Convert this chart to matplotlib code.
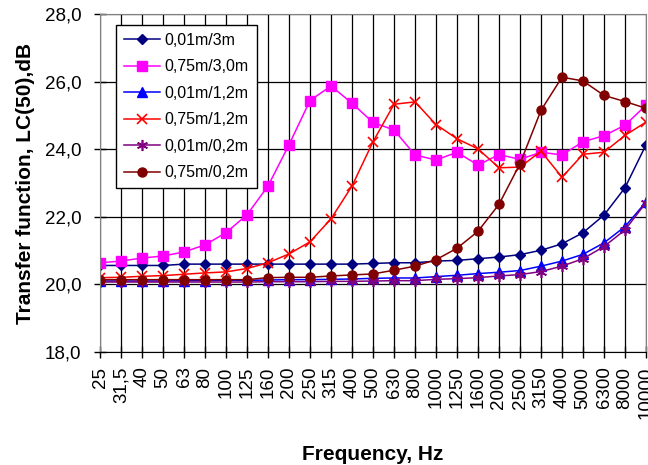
import matplotlib
matplotlib.use('Agg')
import matplotlib.pyplot as plt

plt.rcParams['font.family'] = ['Liberation Sans', 'DejaVu Sans']

freqs = ['25', '31,5', '40', '50', '63', '80', '100', '125', '160', '200', '250', '315', '400',
         '500', '630', '800', '1000', '1250', '1600', '2000', '2500', '3150', '4000', '5000',
         '6300', '8000', '10000']

s_001_3 = [20.56, 20.56, 20.56, 20.56, 20.6, 20.6, 20.6, 20.6, 20.6, 20.6, 20.6, 20.6, 20.6,
           20.62, 20.64, 20.64, 20.69, 20.71, 20.76, 20.81, 20.88, 21.01, 21.20, 21.53, 22.05,
           22.86, 24.13]
s_075_3 = [20.64, 20.69, 20.78, 20.84, 20.96, 21.17, 21.53, 22.06, 22.91, 24.13, 25.44, 25.87,
           25.36, 24.79, 24.57, 23.83, 23.68, 23.91, 23.53, 23.84, 23.70, 23.91, 23.83, 24.22,
           24.40, 24.71, 25.30]
s_001_12 = [20.1, 20.1, 20.1, 20.1, 20.11, 20.11, 20.12, 20.12, 20.13, 20.14, 20.14, 20.15, 20.16,
            20.18, 20.19, 20.19, 20.23, 20.27, 20.32, 20.36, 20.41, 20.54, 20.69, 20.89, 21.23,
            21.71, 22.44]
s_075_12 = [20.2, 20.21, 20.24, 20.26, 20.3, 20.34, 20.37, 20.47, 20.64, 20.90, 21.26, 21.94,
            22.91, 24.22, 25.33, 25.40, 24.73, 24.31, 24.01, 23.45, 23.47, 23.94, 23.17, 23.85,
            23.91, 24.41, 24.80]
s_001_02 = [20.07, 20.07, 20.07, 20.07, 20.07, 20.07, 20.07, 20.07, 20.08, 20.08, 20.08, 20.09,
            20.09, 20.10, 20.11, 20.11, 20.15, 20.17, 20.2, 20.25, 20.29, 20.38, 20.54, 20.76,
            21.12, 21.61, 22.42]
s_075_02 = [20.14, 20.14, 20.14, 20.14, 20.14, 20.14, 20.14, 20.14, 20.2, 20.21, 20.21, 20.25,
            20.28, 20.31, 20.42, 20.54, 20.73, 21.07, 21.57, 22.37, 23.57, 25.15, 26.13, 26.02,
            25.59, 25.41, 25.21]

labels = ['0,01m/3m', '0,75m/3,0m', '0,01m/1,2m', '0,75m/1,2m', '0,01m/0,2m', '0,75m/0,2m']

fig = plt.figure(figsize=(6.48, 4.65), dpi=100)
ax = fig.add_axes([100/648, 1 - 352/465, 546/648, 338/465])

x = list(range(len(freqs)))
ax.plot(x, s_001_3, color='#000080', marker='D', ms=5.5, lw=1.1, label=labels[0])
ax.plot(x, s_075_3, color='#FF00FF', marker='s', ms=6.5, lw=1.1, label=labels[1])
ax.plot(x, s_001_12, color='#0000FF', marker='^', ms=7, lw=1.1, label=labels[2])
ax.plot(x, s_075_12, color='#FF0000', marker='x', ms=7.5, mew=1.2, lw=1.1, label=labels[3])
ax.plot(x, s_001_02, color='#800080', marker=(6, 2, 0), ms=8, mew=1.2, lw=1.1, label=labels[4])
ax.plot(x, s_075_02, color='#800000', marker='o', ms=6.5, lw=1.1, label=labels[5])

ax.set_xlim(0, len(freqs) - 1)
ax.set_ylim(18, 28)
ax.set_yticks([18, 20, 22, 24, 26, 28])
ax.set_yticklabels(['18,0', '20,0', '22,0', '24,0', '26,0', '28,0'])
ax.set_xticks(x)
ax.set_xticklabels(freqs, rotation=90, va='top', ha='center')
ax.tick_params(axis='both', direction='inout', length=9, width=1, labelsize=13.5,
               colors='black')
ax.tick_params(axis='y', pad=9)
ax.tick_params(axis='x', pad=6)
ax.grid(True, color='black', lw=0.9)
ax.set_axisbelow(True)
for s in ['left', 'top', 'right']:
    ax.spines[s].set_color('#808080')
ax.spines['bottom'].set_color('black')

ax.set_xlabel('Frequency, Hz', fontsize=15, fontweight='bold', labelpad=19)
ax.set_ylabel('Transfer function, LC(50),dB', fontsize=15, fontweight='bold', labelpad=7)

leg = ax.legend(loc='upper left', bbox_to_anchor=(0.0288, 0.9675), borderaxespad=0,
                fontsize=11.5, frameon=True, fancybox=False, edgecolor='black',
                framealpha=1, handlelength=2.3, labelspacing=0.72, borderpad=0.5,
                handletextpad=0.25)
leg.get_frame().set_linewidth(1)

fig.savefig('out.png', dpi=100)
